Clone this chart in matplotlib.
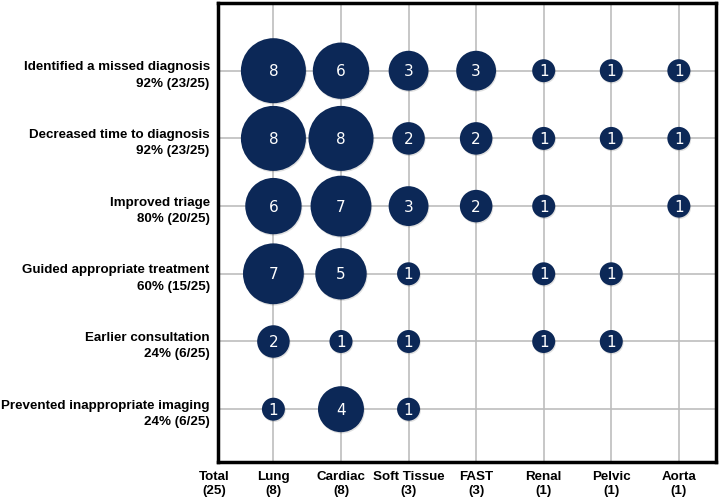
import matplotlib
matplotlib.use("Agg")
import matplotlib.pyplot as plt
import numpy as np

columns = ["Lung", "Cardiac", "Soft Tissue", "FAST", "Renal", "Pelvic", "Aorta"]
column_totals = [8, 8, 3, 3, 1, 1, 1]
overall_total = 25
rows = ["Identified a missed diagnosis", "Decreased time to diagnosis", "Improved triage",
        "Guided appropriate treatment", "Earlier consultation", "Prevented inappropriate imaging"]
row_pcts = ["92% (23/25)", "92% (23/25)", "80% (20/25)", "60% (15/25)", "24% (6/25)", "24% (6/25)"]
counts = [
    [8, 6, 3, 3, 1, 1, 1],
    [8, 8, 2, 2, 1, 1, 1],
    [6, 7, 3, 2, 1, 0, 1],
    [7, 5, 1, 0, 1, 1, 0],
    [2, 1, 1, 0, 1, 1, 0],
    [1, 4, 1, 0, 0, 0, 0],
]

plt.rcParams['font.family'] = ['Liberation Sans', 'DejaVu Sans']
fig = plt.figure(figsize=(7.28, 5.02), dpi=100)
ax = fig.add_axes([218/728, 1-463/502, (716-218)/728, (463-4)/502])

navy = "#0c2857"
xs, ys, vs = [], [], []
for i, r in enumerate(counts):
    for j, v in enumerate(r):
        if v > 0:
            xs.append(j + 1); ys.append(i + 1); vs.append(v)
xs = np.array(xs); ys = np.array(ys); vs = np.array(vs)
ax.scatter(xs + 0.012, ys + 0.02, s=vs * 274, color="#000000", alpha=0.12, zorder=2, linewidths=0)
ax.scatter(xs, ys, s=vs * 274, color=navy, zorder=3, linewidths=0)
for x, y, v in zip(xs, ys, vs):
    ax.text(x, y, str(v), color="white", ha="center", va="center", fontsize=11,
            family=['DejaVu Sans'], zorder=4)

ax.set_xlim(0.18, 7.55)
ax.set_ylim(6.78, 0.0)
ax.set_xticks(range(1, 8))
ax.set_yticks(range(1, 7))
ax.set_xticklabels([f"{c}\n({t})" for c, t in zip(columns, column_totals)],
                   fontsize=9.6, fontweight='bold', linespacing=1.15)
ax.set_yticklabels([f"{r}\n{p}" for r, p in zip(rows, row_pcts)],
                   fontsize=9.6, fontweight='bold', linespacing=1.5, ha='right')
ax.tick_params(length=0, pad=6)
ax.annotate(f"Total\n({overall_total})", xy=(0.12, 0), xycoords=('data', 'axes fraction'),
            xytext=(0, -6), textcoords='offset points', ha="center", va="top",
            fontsize=9.6, fontweight='bold', linespacing=1.15, annotation_clip=False)
ax.grid(True, color="#bdbdbd", linewidth=1.2, zorder=0)
ax.set_axisbelow(True)
for sp in ax.spines.values():
    sp.set_linewidth(2.5)
    sp.set_color("black")

fig.savefig("out.png", dpi=100)
